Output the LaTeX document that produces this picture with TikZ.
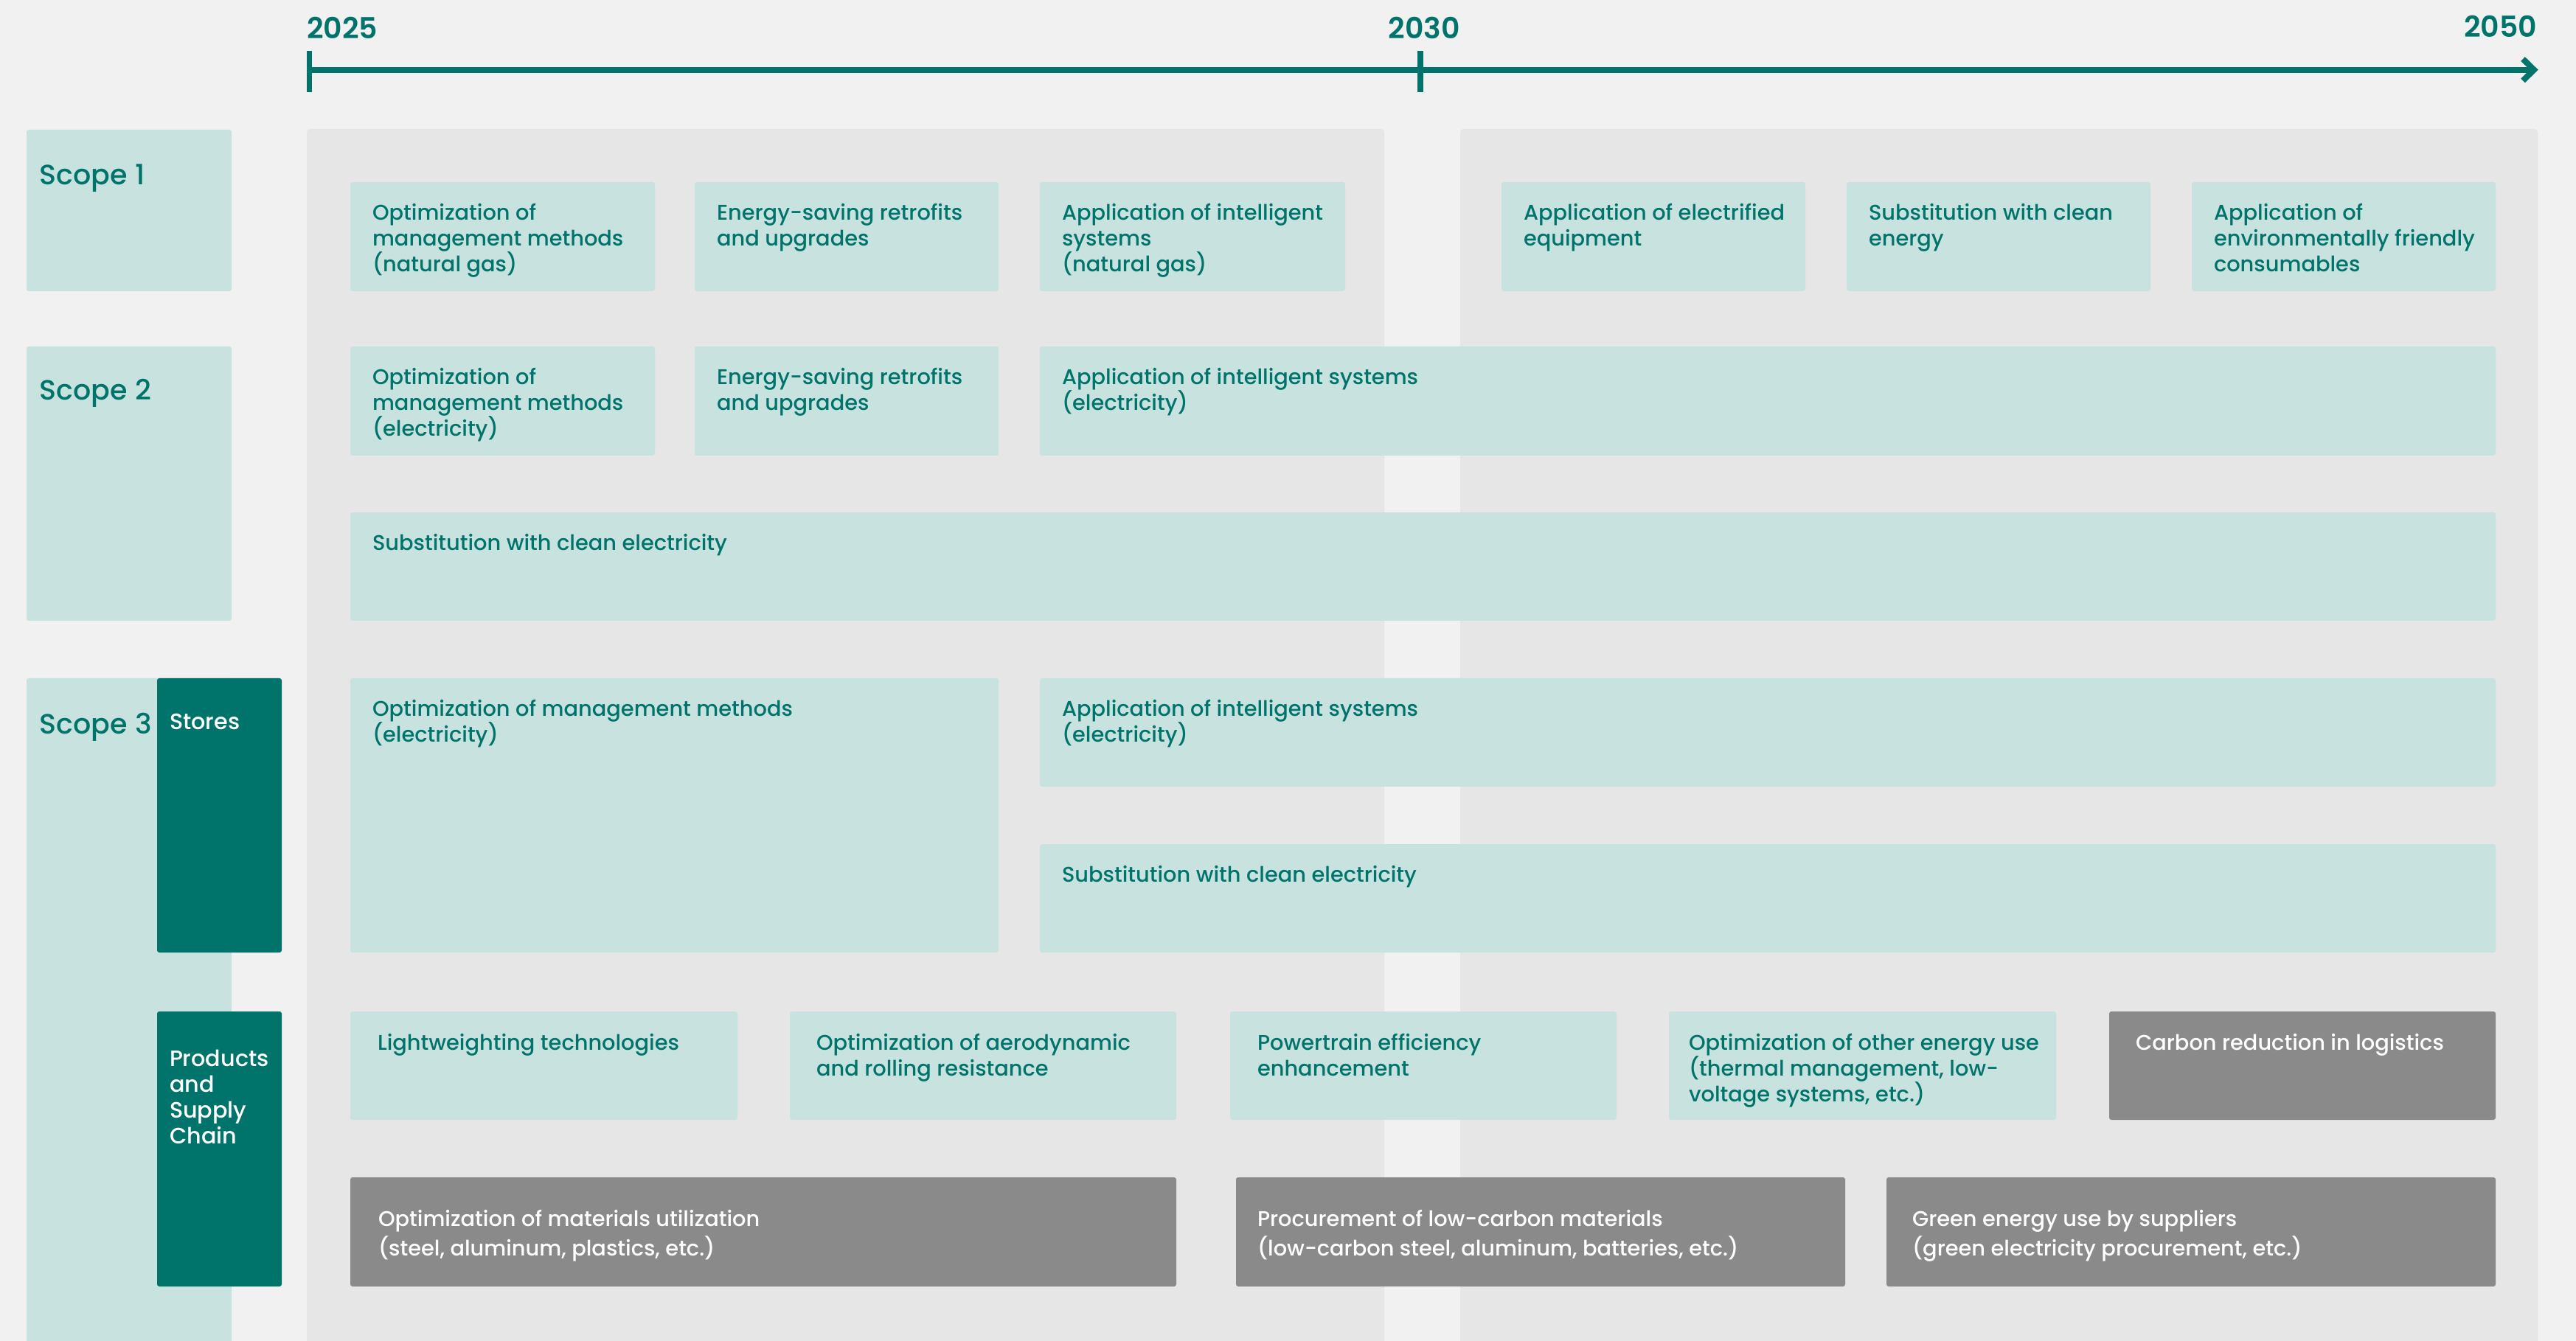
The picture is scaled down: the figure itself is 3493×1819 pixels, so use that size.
\documentclass[tikz,border=0pt]{standalone}
\usepackage{fontspec}
\setmainfont{Poppins}[UprightFont=* Medium, BoldFont=* SemiBold]
\usetikzlibrary{calc,fit}

\definecolor{deepteal}{HTML}{00736B}
\definecolor{mint}{HTML}{C8E3DF}
\definecolor{panelgrey}{HTML}{E6E6E6}
\definecolor{pagebg}{HTML}{F1F1F1}
\definecolor{stone}{HTML}{8A8A8A}

% keep a fixed baseline distance even with tall glyphs
\newcommand\tightlines{\lineskiplimit=-5pt\relax}

\tikzset{
  every node/.style={inner sep=0pt, outer sep=0pt},
  panel/.style={fill=panelgrey, rounded corners=0.04cm},
  mintbox/.style={fill=mint, rounded corners=0.03cm},
  stonebox/.style={fill=stone, rounded corners=0.03cm},
  tealbox/.style={fill=deepteal, rounded corners=0.03cm},
  txt/.style={anchor=north west, align=left, text=deepteal,
              font=\fontsize{8.2pt}{9.96pt}\selectfont\tightlines},
  wtxt/.style={txt, text=white},
  sidetxt/.style={txt, text=white,
              font=\fontsize{8.6pt}{9.96pt}\selectfont\tightlines},
  wtxtwide/.style={wtxt, font=\fontsize{8.2pt}{11.38pt}\selectfont\tightlines},
  scopetxt/.style={anchor=north west, align=left, text=deepteal,
                   font=\fontsize{10.8pt}{14pt}\selectfont},
  yeartxt/.style={text=deepteal, font=\fontsize{11.2pt}{14pt}\selectfont\bfseries},
  axisline/.style={draw=deepteal, line width=0.08cm},
  tickline/.style={draw=deepteal, line width=0.076cm},
}

% box node #1 with style #2, label style #3, corners #4 #5, label offset #6, text #7
\newcommand\card[7]{%
  \node[#2, fit={#4 #5}] (#1) {};
  \node[#3] (#1-t) at ($(#1.north west)+#6$) {\strut #7};
}

\begin{document}
\begin{tikzpicture}[x=0.01cm, y=-0.01cm]
\useasboundingbox (0,0) rectangle (3493,1819);
\fill[pagebg] (0,0) rectangle (3493,1819);

% ---- time axis ----
\coordinate (t25) at (419.5,94.7);
\coordinate (t25top) at (419.5,69);
\coordinate (t25bot) at (419.5,125);
\coordinate (t30top) at (1926,69);
\coordinate (t30bot) at (1926,125);
\coordinate (tipbase) at (3434,94.7);
\coordinate (tip) at (3436,94.7);
\coordinate (barbA) at (3421,80);
\coordinate (barbB) at (3421,109.4);
\path[axisline] (t25) -- (tipbase);
\path[tickline] (t25top) -- (t25bot);
\path[tickline] (t30top) -- (t30bot);
\path[axisline, miter limit=4] (barbA) -- (tip) -- (barbB);

\node[yeartxt, anchor=base west] (y2025) at (416,53) {2025};
\node[yeartxt, anchor=base] (y2030) at (1931,53) {2030};
\node[yeartxt, anchor=base east] (y2050) at (3440,51) {2050};

% ---- background panels ----
\node[panel, fit={(416,175) (1877,1840)}] (panelL) {};
\node[panel, fit={(1980,175) (3441,1840)}] (panelR) {};

% ---- scope column ----
\card{s1}{mintbox}{scopetxt}{(36,176)}{(314,395)}{(18,40)}{Scope 1}
\card{s2}{mintbox}{scopetxt}{(36,470)}{(314,842)}{(18,38)}{Scope 2}
\card{s3}{mintbox}{scopetxt}{(36,920)}{(314,1840)}{(18,41)}{Scope 3}
\card{st}{tealbox}{sidetxt}{(213,920)}{(382,1292)}{(17,44.5)}{Stores}
\card{ps}{tealbox}{sidetxt}{(213,1372)}{(382,1745)}{(17,49.5)}{Products\\and\\Supply\\Chain}

% ---- scope 1 ----
\card{a1}{mintbox}{txt}{(475,247)}{(888,395)}{(30,26.5)}{Optimization of\\management methods\\(natural gas)}
\card{a2}{mintbox}{txt}{(942,247)}{(1354,395)}{(30,26.5)}{Energy-saving retrofits\\and upgrades}
\card{a3}{mintbox}{txt}{(1410,247)}{(1824,395)}{(30,26.5)}{Application of intelligent\\systems\\(natural gas)}
\card{a4}{mintbox}{txt}{(2036,247)}{(2448,395)}{(30,26.5)}{Application of electrified\\equipment}
\card{a5}{mintbox}{txt}{(2504,247)}{(2916,395)}{(30,26.5)}{Substitution with clean\\energy}
\card{a6}{mintbox}{txt}{(2972,247)}{(3384,395)}{(30,26.5)}{Application of\\environmentally friendly\\consumables}

% ---- scope 2 ----
\card{b1}{mintbox}{txt}{(475,470)}{(888,618)}{(30,26.5)}{Optimization of\\management methods\\(electricity)}
\card{b2}{mintbox}{txt}{(942,470)}{(1354,618)}{(30,26.5)}{Energy-saving retrofits\\and upgrades}
\card{b3}{mintbox}{txt}{(1410,470)}{(3384,618)}{(30,26.5)}{Application of intelligent systems\\(electricity)}
\card{c1}{mintbox}{txt}{(475,695)}{(3384,842)}{(30,26.5)}{Substitution with clean electricity}

% ---- scope 3: stores ----
\card{d1}{mintbox}{txt}{(475,920)}{(1354,1292)}{(30,26.5)}{Optimization of management methods\\(electricity)}
\card{d2}{mintbox}{txt}{(1410,920)}{(3384,1067)}{(30,26.5)}{Application of intelligent systems\\(electricity)}
\card{d3}{mintbox}{txt}{(1410,1145)}{(3384,1292)}{(30,26.5)}{Substitution with clean electricity}

% ---- scope 3: products and supply chain ----
\card{e1}{mintbox}{txt}{(475,1372)}{(1000,1519)}{(37,27.5)}{Lightweighting technologies}
\card{e2}{mintbox}{txt}{(1071,1372)}{(1595,1519)}{(36,27.5)}{Optimization of aerodynamic\\and rolling resistance}
\card{e3}{mintbox}{txt}{(1668,1372)}{(2192,1519)}{(37,27.5)}{Powertrain efficiency\\enhancement}
\card{e4}{mintbox}{txt}{(2263,1372)}{(2788,1519)}{(27,27.5)}{Optimization of other energy use\\(thermal management, low-\\voltage systems, etc.)}
\card{e5}{stonebox}{wtxt}{(2860,1372)}{(3384,1519)}{(36,27.5)}{Carbon reduction in logistics}

\card{f1}{stonebox}{wtxtwide}{(475,1597)}{(1595,1745)}{(38,38)}{Optimization of materials utilization\\(steel, aluminum, plastics, etc.)}
\card{f2}{stonebox}{wtxtwide}{(1676,1597)}{(2502,1745)}{(29,38)}{Procurement of low-carbon materials\\(low-carbon steel, aluminum, batteries, etc.)}
\card{f3}{stonebox}{wtxtwide}{(2558,1597)}{(3384,1745)}{(35,38)}{Green energy use by suppliers\\(green electricity procurement, etc.)}
\end{tikzpicture}
\end{document}
